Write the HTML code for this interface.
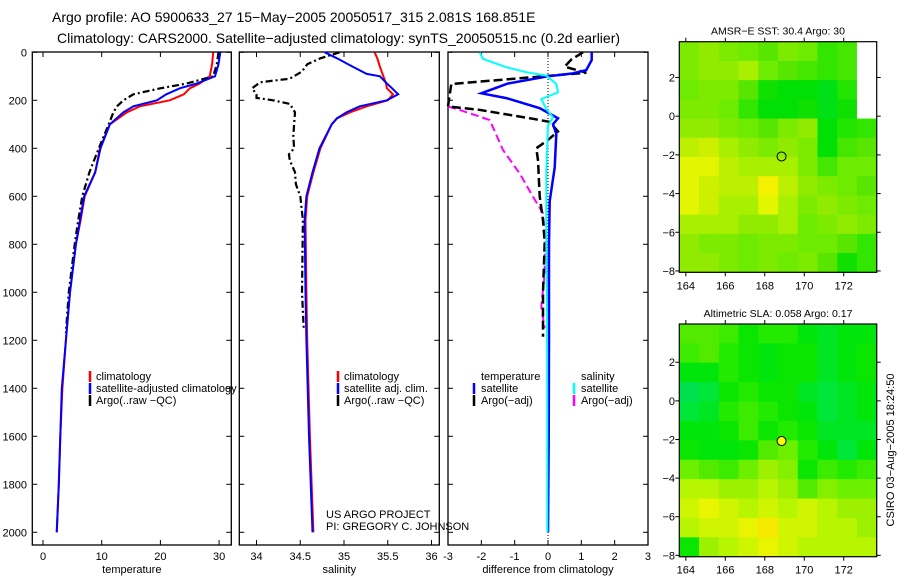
<!DOCTYPE html>
<html><head><meta charset="utf-8"><style>
html,body{margin:0;padding:0;background:#fff;}
svg{display:block;font-family:"Liberation Sans",sans-serif;}
</style></head><body>
<svg id="c" width="900" height="580" viewBox="0 0 900 580" xmlns="http://www.w3.org/2000/svg">
<text x="52" y="22" font-size="14">Argo profile: AO 5900633_27 15−May−2005 20050517_315 2.081S 168.851E</text>
<text x="57" y="43" font-size="14">Climatology: CARS2000. Satellite−adjusted climatology: synTS_20050515.nc (0.2d earlier)</text>
<g id="g"></g>
</svg>
<script>
// ---------- data ----------
const tDepth = [0,50,100,130,150,175,200,225,250,300,400,500,600,700,800,1000,1200,1400,1600,1800,2000];
const tClim  = [29.0,28.8,28.4,26.7,25.0,24.0,21.6,16.5,14.3,11.4,9.7,8.9,7.1,6.4,5.6,4.6,3.9,3.3,2.95,2.7,2.35];
const tSat   = [30.2,29.9,29.3,26.2,23.3,21.0,19.4,15.4,13.7,11.4,9.8,8.9,7.0,6.3,5.6,4.6,3.9,3.2,2.95,2.7,2.33];
const aDepthT= [0,50,100,130,150,175,200,225,250,300,400,500,600,700,800,1000,1170];
const tArgo  = [29.9,29.6,29.0,24.5,20.0,15.4,13.7,12.6,12.0,11.2,9.5,7.9,6.7,6.0,5.4,4.4,3.9];
const sDepth = [0,25,60,90,100,130,150,175,200,225,250,275,300,400,500,600,700,1000,1200,1600,2000];
const sClim  = [35.35,35.38,35.41,35.44,35.45,35.48,35.49,35.56,35.50,35.26,35.07,34.92,34.86,34.73,34.65,34.58,34.56,34.57,34.58,34.61,34.65];
const sSat   = [34.78,34.92,35.10,35.26,35.41,35.49,35.55,35.62,35.49,35.18,35.03,34.92,34.86,34.72,34.64,34.57,34.55,34.56,34.57,34.60,34.64];
const aDepthS= [0,25,50,80,110,125,150,175,190,200,215,250,300,350,400,425,450,500,550,600,700,1000,1150];
const sArgo  = [34.95,34.73,34.58,34.52,34.38,34.04,33.95,34.00,34.00,34.19,34.38,34.44,34.43,34.42,34.43,34.37,34.38,34.44,34.45,34.50,34.53,34.52,34.54];
const dDepthTS = [0,32,74,88,100,130,171,191,233,275,300,340,480,620,800,1200,1600,2000];
const dTSat    = [1.31,1.31,1.15,0.75,0.0,-1.2,-2.0,-1.25,-0.25,0.3,0.15,0.25,0.2,0.05,0.03,0.03,0.02,0.0];
const dDepthTA = [0,30,60,85,132,226,240,277,290,330,365,400,450,600,700,790,1000,1185];
const dTArgo   = [1.05,0.7,0.5,1.15,-2.9,-3.0,-2.05,-0.45,0.05,0.3,0.0,-0.35,-0.3,-0.25,-0.15,-0.1,-0.15,-0.15];
const dDepthSS = [0,28,62,83,97,132,167,195,236,271,306,500,800,1100,1500,2000];
const dSSat    = [-2.05,-1.95,-1.25,-0.65,-0.05,0.25,0.3,-0.2,-0.05,0.15,0.0,-0.05,-0.05,-0.03,-0.02,-0.02];
const dDepthSA = [226,240,282,407,505,602,671,755,921,1060,1150];
const dSArgo   = [-3.0,-2.65,-1.75,-1.35,-0.85,-0.45,-0.15,-0.1,-0.1,-0.2,-0.1];
const depthTicks = [0,200,400,600,800,1000,1200,1400,1600,1800,2000];
const tTicks = [0,10,20,30];
const sTicks = [34,34.5,35,35.5,36];
const dTicks = [-3,-2,-1,0,1,2,3];
const lonTicks = [164,166,168,170,172];
const latTicks = [2,0,-2,-4,-6,-8];
const sstGrid = [
[0.5,0.55,0.5,0.45,0.4,0.5,0.45,0.3,0.35,null],
[0.5,0.55,0.55,0.6,0.45,0.4,0.35,0.3,0.35,null],
[0.45,0.5,0.5,0.4,0.2,0.15,0.15,0.1,0.25,null],
[0.5,0.5,0.45,0.3,0.15,0.15,0.2,0.1,0.2,null],
[0.55,0.55,0.5,0.45,0.4,0.5,0.55,0.15,0.25,0.3],
[0.65,0.7,0.6,0.55,0.5,0.55,0.5,0.15,0.35,0.4],
[0.75,0.75,0.65,0.6,0.6,0.6,0.5,0.35,0.45,0.45],
[0.75,0.7,0.65,0.65,0.8,0.65,0.55,0.5,0.45,0.4],
[0.75,0.7,0.6,0.6,0.75,0.6,0.5,0.55,0.5,0.45],
[0.6,0.6,0.6,0.55,0.55,0.6,0.45,0.5,0.55,0.5],
[0.55,0.5,0.5,0.45,0.5,0.5,0.45,0.45,0.4,0.3],
[0.55,0.55,0.5,0.45,0.5,0.45,0.5,0.4,0.2,0.3]];
const slaGrid = [
[0.55,0.55,0.5,0.4,0.45,0.45,0.35,0.3,0.35,0.35],
[0.5,0.55,0.45,0.4,0.35,0.4,0.4,0.3,0.35,0.4],
[0.35,0.35,0.45,0.4,0.35,0.4,0.4,0.3,0.35,0.4],
[0.2,0.25,0.4,0.45,0.4,0.4,0.3,0.25,0.3,0.35],
[0.25,0.3,0.45,0.5,0.45,0.4,0.35,0.25,0.3,0.35],
[0.35,0.35,0.4,0.5,0.4,0.45,0.4,0.3,0.3,0.3],
[0.4,0.35,0.35,0.4,0.55,0.6,0.45,0.35,0.25,0.35],
[0.6,0.55,0.5,0.6,0.7,0.65,0.4,0.5,0.45,0.5],
[0.75,0.75,0.7,0.7,0.75,0.7,0.55,0.65,0.6,0.6],
[0.8,0.85,0.8,0.75,0.8,0.75,0.8,0.75,0.7,0.7],
[0.75,0.8,0.8,0.85,0.9,0.8,0.8,0.75,0.75,0.7],
[0.4,0.7,0.75,0.8,0.85,0.8,0.75,0.75,0.75,0.75]];
const argoLon = 168.851, argoLat = -2.081;

// ---------- drawing ----------
const NS="http://www.w3.org/2000/svg";
const G=document.getElementById('g');
function mk(tag,attrs,parent){const e=document.createElementNS(NS,tag);for(const k in attrs)e.setAttribute(k,attrs[k]);(parent||G).appendChild(e);return e;}
function txt(x,y,s,anchor,size){const t=mk('text',{x:x,y:y,'font-size':size||11,'text-anchor':anchor||'start'});t.textContent=s;return t;}
const yD=d=>52.3+d*0.24;
const xT=v=>43+v*5.87;
const xS=v=>256.5+(v-34)*87.5;
const xDf=v=>548+v*33.33;

function panel(x0,x1,xf,ticks,title,name){
  const b=mk('rect',{x:x0,y:52,width:x1-x0,height:493,fill:'none',stroke:'#000','stroke-width':1.3});
  
  
  depthTicks.forEach(d=>{const y=yD(d);mk('line',{x1:x0,y1:y,x2:x0+5,y2:y,stroke:'#000'});mk('line',{x1:x1-5,y1:y,x2:x1,y2:y,stroke:'#000'});});
  ticks.forEach(v=>{const x=xf(v);mk('line',{x1:x,y1:545,x2:x,y2:540,stroke:'#000'});mk('line',{x1:x,y1:52,x2:x,y2:57,stroke:'#000'});
    const t=txt(x,560,String(v),'middle');});
  const t=txt((x0+x1)/2,573,title,'middle',11);
  
  
}
function line(xs,ds,xf,color,w,dash,name){
  const pts=xs.map((v,i)=>xf(v).toFixed(1)+','+yD(ds[i]).toFixed(1)).join(' ');
  const p=mk('polyline',{points:pts,fill:'none',stroke:color,'stroke-width':w});
  if(dash)p.setAttribute('stroke-dasharray',dash);
  
  
}
// panel 1
panel(32.3,231.3,xT,tTicks,'temperature','temperature-panel');
depthTicks.forEach(d=>{const t=txt(27,yD(d)+4,String(d),'end');});
line(tClim,tDepth,xT,'#f00',2,null,'temp-climatology-line');
line(tArgo,aDepthT,xT,'#000',2.2,'7,3,2,3','temp-argo-line');
line(tSat,tDepth,xT,'#00f',2,null,'temp-satellite-line');
// panel 2
panel(239.3,439.3,xS,sTicks,'salinity','salinity-panel');
line(sClim,sDepth,xS,'#f00',2,null,'sal-climatology-line');
line(sArgo,aDepthS,xS,'#000',2.2,'7,3,2,3','sal-argo-line');
line(sSat,sDepth,xS,'#00f',2,null,'sal-satellite-line');
// panel 3
panel(448,648,xDf,dTicks,'difference from climatology','difference-panel');
const zl=mk('line',{x1:548,y1:52,x2:548,y2:545,stroke:'#000','stroke-dasharray':'1,2'});


line(dSArgo,dDepthSA,xDf,'#f0f',2,'8,4','diff-sal-argo-line');
line(dTArgo,dDepthTA,xDf,'#000',2.5,'9,4','diff-temp-argo-line');
line(dTSat,dDepthTS,xDf,'#00f',2.5,null,'diff-temp-satellite-line');
line(dSSat,dDepthSS,xDf,'#0ff',2,null,'diff-sal-satellite-line');

// legends
function legend(mx,tx,ys,labels,colors,name){
  labels.forEach((l,i)=>{
    if(colors[i]){const m=mk('line',{x1:mx,y1:ys[i]-9,x2:mx,y2:ys[i]+2,stroke:colors[i],'stroke-width':2.5});}
    const t=txt(tx,ys[i],l,'start',11);
  });
}
legend(90,96,[380,392,404],['climatology','satellite-adjusted climatology','Argo(..raw −QC)'],['#f00','#00f','#000'],'temperature-legend');
legend(338,344,[380,392,404],['climatology','satellite adj. clim.','Argo(..raw −QC)'],['#f00','#00f','#000'],'salinity-legend');
legend(474,481,[380,392,404],['temperature','satellite','Argo(−adj)'],[null,'#00f','#000'],'diff-temp-legend');
legend(574,581,[380,392,404],['salinity','satellite','Argo(−adj)'],[null,'#0ff','#f0f'],'diff-sal-legend');
let t1=txt(326,518,'US ARGO PROJECT','start',11);
let t2=txt(326,530,'PI: GREGORY C. JOHNSON','start',11);

// maps
function map(top,bot,topLat,grid,hueFn,title,name,filled){
  const x0=679.3,x1=876.7,lon0=163.67,lon1=173.67,botLat=-8.07;
  const xL=l=>x0+(l-lon0)/(lon1-lon0)*(x1-x0);
  const yL=l=>top+(topLat-l)/(topLat-botLat)*(bot-top);
  const rows=grid.length,cols=grid[0].length,cw=(x1-x0)/cols,ch=(bot-top)/rows;
  grid.forEach((r,i)=>r.forEach((v,j)=>{
    const c=mk('rect',{x:(x0+j*cw).toFixed(2),y:(top+i*ch).toFixed(2),width:(cw+0.5).toFixed(2),height:(ch+0.5).toFixed(2),fill:v===null?'#fff':'hsl('+hueFn(v).toFixed(0)+',100%,'+(43+6*v).toFixed(0)+'%)'});
    
    
  }));
  const f=mk('rect',{x:x0,y:top,width:x1-x0,height:bot-top,fill:'none',stroke:'#000','stroke-width':1.2});
  
  
  lonTicks.forEach(l=>{const x=xL(l);mk('line',{x1:x,y1:top,x2:x,y2:top-4,stroke:'#000'});mk('line',{x1:x,y1:bot,x2:x,y2:bot+4,stroke:'#000'});
    const t=txt(x,bot+17,String(l),'middle');});
  latTicks.forEach(l=>{const y=yL(l);mk('line',{x1:x0,y1:y,x2:x0-4,y2:y,stroke:'#000'});mk('line',{x1:x1,y1:y,x2:x1+4,y2:y,stroke:'#000'});
    const t=txt(675,y+4,String(l).replace('-','−'),'end');});
  const c=mk('circle',{cx:xL(argoLon),cy:yL(argoLat),r:4.5,fill:filled?'#ff0':'none',stroke:'#000','stroke-width':1});
  
  
  const t=txt(778,top-7,title,'middle',10.5);
  
  
}
map(41.7,272.3,3.85,sstGrid,v=>135-95*v,'AMSR−E SST: 30.4 Argo: 30','sst-map',false);
map(324,556.7,3.98,slaGrid,v=>165-120*v,'Altimetric SLA: 0.058 Argo: 0.17','sla-map',true);
const ts=txt(0,0,'CSIRO 03−Aug−2005 18:24:50','middle',11);
ts.setAttribute('transform','translate(894,450) rotate(-90)');


</script>
</body></html>
